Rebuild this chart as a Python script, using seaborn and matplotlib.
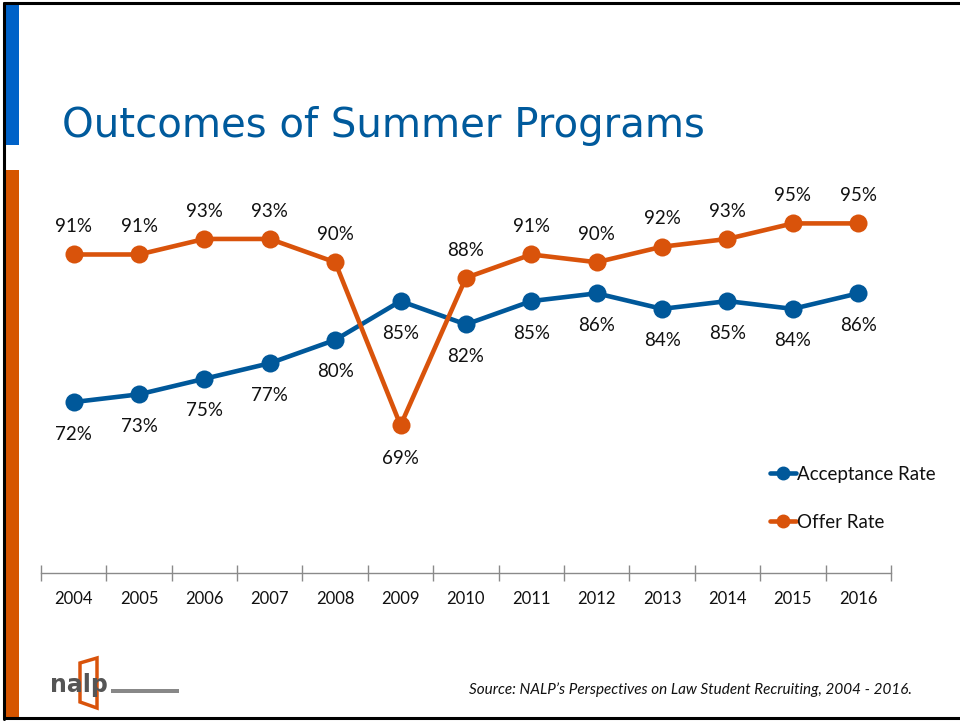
import matplotlib
matplotlib.use("Agg")
import matplotlib.pyplot as plt
import seaborn as sns
import pandas as pd
from matplotlib.lines import Line2D
from matplotlib.patches import Rectangle, Polygon

years = ["2004", "2005", "2006", "2007", "2008", "2009", "2010",
         "2011", "2012", "2013", "2014", "2015", "2016"]
acceptance = [72, 73, 75, 77, 80, 85, 82, 85, 86, 84, 85, 84, 86]
offer = [91, 91, 93, 93, 90, 69, 88, 91, 90, 92, 93, 95, 95]
series_names = ["Acceptance Rate", "Offer Rate"]
title = "Outcomes of Summer Programs"
source = "Source: NALP\u2019s Perspectives on Law Student Recruiting, 2004 - 2016."

BLUE = "#00589A"
ORANGE = "#D9530B"

sns.set_theme(style="white")
plt.rcParams["font.family"] = ["Lato", "DejaVu Sans"]

df = pd.DataFrame({
    "idx": list(range(len(years))) * 2,
    "value": acceptance + offer,
    "series": [series_names[0]] * len(years) + [series_names[1]] * len(years),
})

fig = plt.figure(figsize=(9.6, 7.21), dpi=100)
ax = fig.add_axes([0.0427, 0.2053, 0.8853, 0.5387])

sns.lineplot(data=df, x="idx", y="value", hue="series",
             palette={series_names[0]: BLUE, series_names[1]: ORANGE},
             marker="o", markersize=13, markeredgewidth=0, linewidth=3.3,
             ax=ax, legend=False)

ax.set_xlim(-0.5, len(years) - 0.5)
ax.set_ylim(50, 100)
ax.set_xlabel("")
ax.set_ylabel("")
ax.set_yticks([])
ax.set_xticks(range(len(years)))
ax.set_xticklabels(years, fontsize=12, color="#111111")
ax.tick_params(axis="x", which="major", bottom=True, length=0, pad=13)
ax.set_xticks([i - 0.5 for i in range(len(years) + 1)], minor=True)
ax.tick_params(axis="x", which="minor", bottom=True, direction="inout",
               length=12, width=1, color="#8a8a8a")
for s in ["top", "right", "left"]:
    ax.spines[s].set_visible(False)
ax.spines["bottom"].set_color("#8a8a8a")
ax.spines["bottom"].set_linewidth(1)

for i, v in enumerate(acceptance):
    ax.annotate(f"{v}%", (i, v), xytext=(0, -23), textcoords="offset points",
                ha="center", va="center", fontsize=13.5, color="#111111")
for i, v in enumerate(offer):
    dy = -24 if i == 5 else 20
    ax.annotate(f"{v}%", (i, v), xytext=(0, dy), textcoords="offset points",
                ha="center", va="center", fontsize=13.5, color="#111111")

# legend
handles = [Line2D([0], [0], color=BLUE, lw=3.3, marker="o", markersize=9),
           Line2D([0], [0], color=ORANGE, lw=3.3, marker="o", markersize=9)]
fig.legend(handles, series_names, loc="upper left",
           bbox_to_anchor=(0.792, 0.367), frameon=False, fontsize=13.5,
           handlelength=1.4, handletextpad=0.05, labelspacing=1.65,
           borderpad=0, labelcolor="#111111")

# title
fig.text(62 / 960, 1 - 126 / 721, title, ha="left", va="center",
         fontsize=29, color="#005A9C", family=["DejaVu Sans"])

# source
fig.text(912 / 960, 1 - 690 / 721, source, ha="right", va="center",
         fontsize=11, style="italic", color="#111111")

# slide decorations
fig.add_artist(Rectangle((5 / 960, 1 - 145 / 721), 14 / 960, 142 / 721,
                         transform=fig.transFigure, color="#0062C8", lw=0))
fig.add_artist(Rectangle((5 / 960, 1 - 718 / 721), 14 / 960, 548 / 721,
                         transform=fig.transFigure, color="#D65500", lw=0))
fig.add_artist(Line2D([4 / 960, 4 / 960], [1 - 719 / 721, 1 - 3 / 721],
                      transform=fig.transFigure, color="black", lw=2.2))
fig.add_artist(Line2D([4 / 960, 1], [1 - 3 / 721, 1 - 3 / 721],
                      transform=fig.transFigure, color="black", lw=2.2))
fig.add_artist(Line2D([4 / 960, 1], [1 - 718 / 721, 1 - 718 / 721],
                      transform=fig.transFigure, color="black", lw=2.2))

# logo
fig.add_artist(Polygon([(80 / 960, 1 - 663 / 721), (97 / 960, 1 - 658 / 721),
                        (97 / 960, 1 - 708 / 721), (80 / 960, 1 - 702 / 721)],
                       closed=True, transform=fig.transFigure,
                       fill=False, edgecolor="#D9530B", lw=2.5))
fig.text(50 / 960, 1 - 685 / 721, "nalp", ha="left", va="center",
         fontsize=17, fontweight="bold", color="#555555",
         family=["DejaVu Sans"])
fig.add_artist(Rectangle((111 / 960, 1 - 693 / 721), 68 / 960, 4 / 721,
                         transform=fig.transFigure, color="#888888", lw=0))

fig.savefig("out.png", dpi=100)
